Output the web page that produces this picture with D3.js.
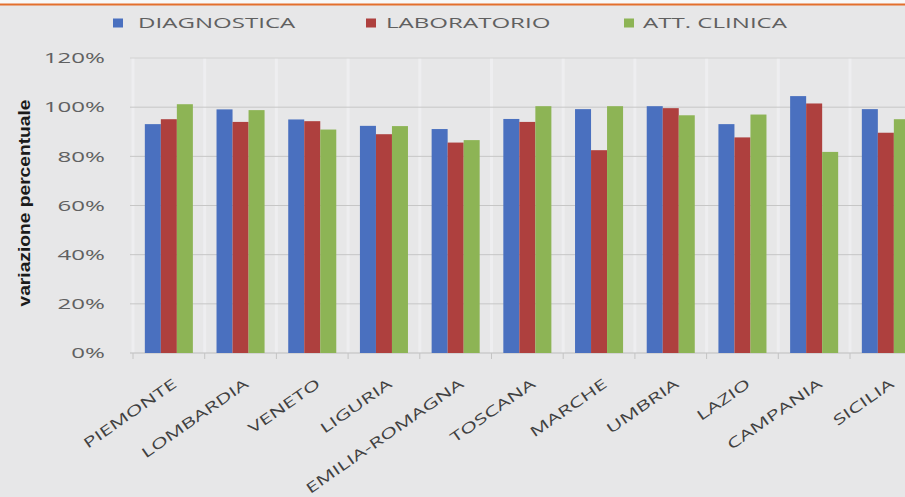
<!DOCTYPE html>
<html>
<head>
<meta charset="utf-8">
<script src="https://cdn.jsdelivr.net/npm/d3@7"></script>
<style>
  html, body { margin: 0; padding: 0; background: #e8e8e8; }
  svg { display: block; }
</style>
</head>
<body>
<svg id="chart" width="905" height="497"></svg>
<script>
const regions = ["PIEMONTE","LOMBARDIA","VENETO","LIGURIA","EMILIA-ROMAGNA","TOSCANA","MARCHE","UMBRIA","LAZIO","CAMPANIA","SICILIA"];
const seriesNames = ["DIAGNOSTICA","LABORATORIO","ATT. CLINICA"];
const diagnostica = [93.1, 99.1, 95.0, 92.4, 91.1, 95.2, 99.2, 100.4, 93.1, 104.5, 99.2];
const laboratorio = [95.1, 94.0, 94.3, 89.0, 85.6, 94.0, 82.5, 99.6, 87.7, 101.5, 89.6];
const attClinica  = [101.2, 98.8, 90.9, 92.3, 86.6, 100.4, 100.4, 96.7, 97.0, 81.8, 95.1];
const yTicks = [0, 20, 40, 60, 80, 100, 120];
const yTickLabels = ["0%","20%","40%","60%","80%","100%","120%"];
const colors = ["#4a70bf", "#ae403e", "#8db455"];

const seriesValues = [diagnostica, laboratorio, attClinica];
const table = regions.map((r, i) => ({
  region: r,
  values: seriesNames.map((s, k) => ({ key: s, value: seriesValues[k][i] }))
}));

const svg = d3.select("#chart");
const W = 905, H = 497;
const SX = 1.72; // horizontal stretch of the original picture's text

// background + top strip
svg.append("rect").attr("x", 0).attr("y", 0).attr("width", W).attr("height", H).attr("fill", "#e7e7e8");
svg.append("rect").attr("x", 0).attr("y", 0).attr("width", W).attr("height", 4).attr("fill", "#f8f8f8");
svg.append("rect").attr("x", 0).attr("y", 3.5).attr("width", W).attr("height", 2).attr("fill", "#e36f2d");

const plotLeft = 133, plotTop = 58, plotBottom = 353;
const step = 71.7;
const x0 = d3.scaleBand().domain(regions)
  .range([plotLeft, plotLeft + step * regions.length])
  .paddingInner(0.33).paddingOuter(0.165);
const x1 = d3.scaleBand().domain(seriesNames).range([0, x0.bandwidth()]);
const y = d3.scaleLinear().domain([0, 120]).range([plotBottom, plotTop]);

// faint vertical separators
const bounds = regions.map((r, i) => x0(r) - x0.step() * x0.paddingInner() / 2);
bounds.push(x0(regions[regions.length - 1]) + x0.bandwidth() + x0.step() * x0.paddingInner() / 2);
svg.append("g").selectAll("line").data(bounds).join("line")
  .attr("x1", d => d).attr("x2", d => d)
  .attr("y1", plotTop).attr("y2", plotBottom)
  .attr("stroke", "#eeeef0").attr("stroke-width", 3);

// horizontal gridlines
svg.append("g").selectAll("line").data(yTicks).join("line")
  .attr("x1", plotLeft - 3).attr("x2", W)
  .attr("y1", d => y(d)).attr("y2", d => y(d))
  .attr("stroke", d => d === 0 ? "#bdbdbd" : (d === 120 ? "#d2d2d2" : "#c6c6c6")).attr("stroke-width", 1);

// category ticks
svg.append("g").selectAll("line").data(bounds).join("line")
  .attr("x1", d => d).attr("x2", d => d)
  .attr("y1", plotBottom).attr("y2", plotBottom + 6)
  .attr("stroke", "#c4c4c4").attr("stroke-width", 1);

// bars
const groups = svg.append("g").selectAll("g").data(table).join("g")
  .attr("transform", d => `translate(${x0(d.region)},0)`);
groups.selectAll("rect").data(d => d.values).join("rect")
  .attr("x", d => x1(d.key))
  .attr("width", x1.bandwidth())
  .attr("y", d => y(d.value))
  .attr("height", d => y(0) - y(d.value))
  .attr("fill", (d, i) => colors[i]);

// y tick labels
svg.append("g").selectAll("text").data(yTicks).join("text")
  .attr("transform", d => `translate(105,${y(d)}) scale(${SX},1)`)
  .attr("text-anchor", "end")
  .attr("dominant-baseline", "central")
  .attr("font-family", "'Open Sans', sans-serif")
  .attr("font-size", 14)
  .attr("fill", "#606060")
  .text((d, i) => yTickLabels[i]);

// y title
svg.append("text")
  .attr("transform", "translate(24,203) rotate(-90)")
  .attr("text-anchor", "middle")
  .attr("dominant-baseline", "central")
  .attr("font-family", "'Liberation Sans Narrow', 'Liberation Sans', Arial, sans-serif")
  .attr("font-weight", "bold")
  .attr("font-size", 16)
  .attr("textLength", 207)
  .attr("lengthAdjust", "spacingAndGlyphs")
  .attr("fill", "#1a1a1a")
  .text("variazione percentuale");

// x labels
svg.append("g").selectAll("text").data(regions).join("text")
  .attr("transform", d => `translate(${x0(d) + x0.bandwidth() / 2 + 9},386) rotate(-35) scale(1.58,1)`)
  .attr("text-anchor", "end")
  .attr("font-family", "'Open Sans', sans-serif")
  .attr("font-size", 14)
  .attr("fill", "#404040")
  .text(d => d);

// legend
const legendSquareX = [113, 366, 624];
const legendTextX = [138, 386, 643];
const legend = svg.append("g").selectAll("g").data(seriesNames).join("g");
legend.append("rect")
  .attr("x", (d, i) => legendSquareX[i]).attr("y", 18.5)
  .attr("width", 10).attr("height", 9)
  .attr("fill", (d, i) => colors[i]);
legend.append("text")
  .attr("transform", (d, i) => `translate(${legendTextX[i]},23) scale(${SX},1)`)
  .attr("dominant-baseline", "central")
  .attr("font-family", "'Open Sans', sans-serif")
  .attr("font-size", 14)
  .attr("fill", "#606060")
  .text(d => d);
</script>
</body>
</html>
